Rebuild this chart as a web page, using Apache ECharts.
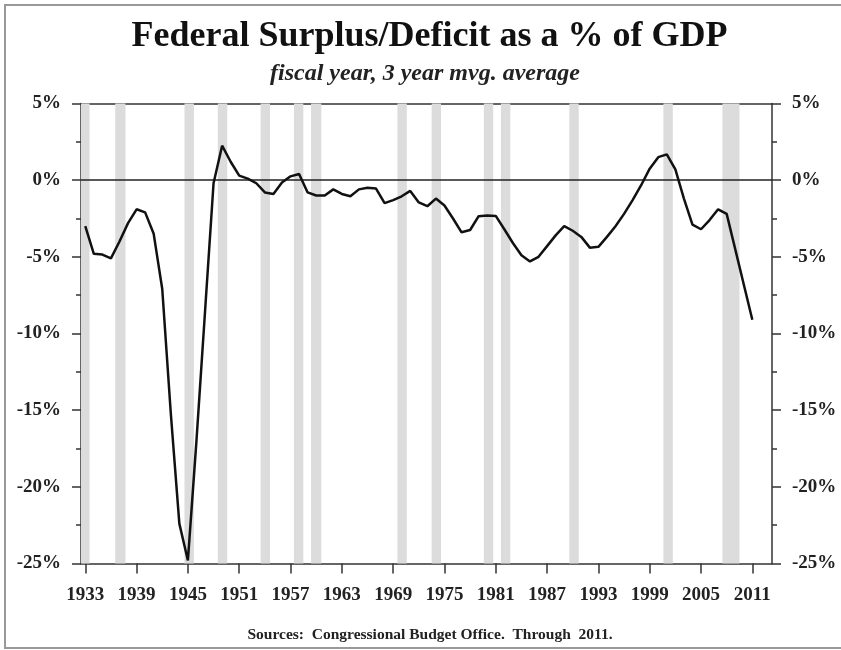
<!DOCTYPE html>
<html>
<head>
<meta charset="utf-8">
<script src="https://cdn.jsdelivr.net/npm/echarts@6/dist/echarts.min.js"></script>
<style>
html,body{margin:0;padding:0;background:#fff;}
#chart{width:841px;height:650px;}
</style>
</head>
<body>
<div id="chart"></div>
<script>
// ---- data ----
const years = [];
for (let y = 1933; y <= 2011; y++) years.push(y);
const deficitPct = [
  -3.0, -4.8, -4.85, -5.1, -4.0, -2.8, -1.9, -2.1, -3.5, -7.1,
  -15.2, -22.4, -24.8, -17.0, -8.6, -0.2, 2.25, 1.2, 0.3, 0.1,
  -0.2, -0.8, -0.9, -0.15, 0.25, 0.4, -0.8, -1.0, -1.0, -0.6,
  -0.9, -1.05, -0.6, -0.5, -0.55, -1.5, -1.3, -1.05, -0.7, -1.45,
  -1.7, -1.2, -1.65, -2.5, -3.4, -3.25, -2.35, -2.3, -2.33, -3.2,
  -4.1, -4.9, -5.3, -5.0, -4.3, -3.6, -3.0, -3.3, -3.7, -4.4,
  -4.35, -3.7, -3.0, -2.2, -1.3, -0.33, 0.75, 1.5, 1.68, 0.7,
  -1.2, -2.9, -3.2, -2.6, -1.9, -2.2, -4.5, -6.8, -9.1
];
const recessionStart = [1932.5, 1936.5, 1944.6, 1948.5, 1953.5, 1957.4, 1959.4, 1969.5, 1973.5, 1979.6, 1981.6, 1989.6, 2000.6, 2007.5];
const recessionEnd   = [1933.5, 1937.7, 1945.7, 1949.6, 1954.6, 1958.5, 1960.6, 1970.6, 1974.6, 1980.7, 1982.7, 1990.7, 2001.7, 2009.5];
const xTickYears = [1933, 1939, 1945, 1951, 1957, 1963, 1969, 1975, 1981, 1987, 1993, 1999, 2005, 2011];
const titleText = 'Federal Surplus/Deficit as a % of GDP';
const subtitleText = 'fiscal year, 3 year mvg. average';
const sourceText = 'Sources:  Congressional Budget Office.  Through  2011.';

// ---- chart ----
const serif = '"Liberation Serif", "Times New Roman", serif';
const chart = echarts.init(document.getElementById('chart'), null, {renderer: 'canvas'});
const lineData = years.map((y, i) => [y, deficitPct[i]]);
const bands = recessionStart.map((s, i) => [{xAxis: s}, {xAxis: recessionEnd[i]}]);

const yAxisCommon = {
  type: 'value', min: -25, max: 5, interval: 5,
  axisLine: {show: true, lineStyle: {color: '#333', width: 1.5}},
  axisTick: {show: true, inside: false, length: 9, lineStyle: {color: '#333', width: 1.5}},
  minorTick: {show: true, splitNumber: 2, length: 5, lineStyle: {color: '#333', width: 1.5}},
  splitLine: {show: false},
  axisLabel: {formatter: '{value}%', fontFamily: serif, fontWeight: 'bold', fontSize: 19, color: '#222', margin: 20}
};

chart.setOption({
  animation: false,
  backgroundColor: '#fff',
  title: [
    {text: titleText, left: 424.5, top: 14, textAlign: 'center',
     textStyle: {fontFamily: serif, fontWeight: 'bold', fontSize: 36, color: '#111'}},
    {text: subtitleText, left: 420, top: 57, textAlign: 'center',
     textStyle: {fontFamily: serif, fontWeight: 'bold', fontStyle: 'italic', fontSize: 24, color: '#222'}},
    {text: sourceText, left: 425, top: 622, textAlign: 'center',
     textStyle: {fontFamily: serif, fontWeight: 'bold', fontSize: 15.5, color: '#222'}}
  ],
  graphic: [{
    type: 'rect', silent: true, z: -1,
    shape: {x: 5, y: 5, width: 860, height: 643},
    style: {fill: null, stroke: '#999', lineWidth: 2}
  }],
  grid: {left: 81, right: 69, top: 103.5, bottom: 86.5},
  xAxis: [{
    type: 'value', min: 1932.5, max: 2013.3, position: 'bottom',
    axisLine: {show: true, onZero: false, lineStyle: {color: '#333', width: 1.5}},
    axisTick: {show: true, inside: false, length: 10, customValues: xTickYears, lineStyle: {color: '#333', width: 1.5}},
    axisLabel: {customValues: xTickYears, formatter: v => String(v), fontFamily: serif, fontWeight: 'bold', fontSize: 19, color: '#222', margin: 22},
    splitLine: {show: false}
  }, {
    type: 'value', min: 1932.5, max: 2013.3, position: 'top',
    axisLine: {show: true, onZero: false, lineStyle: {color: '#333', width: 1.5}},
    axisTick: {show: false}, axisLabel: {show: false}, splitLine: {show: false}
  }],
  yAxis: [
    Object.assign({position: 'left'}, yAxisCommon),
    Object.assign({position: 'right'}, yAxisCommon)
  ],
  series: [{
    type: 'line', xAxisIndex: 0, yAxisIndex: 0,
    data: lineData, showSymbol: false, symbol: 'none', smooth: false,
    lineStyle: {color: '#111', width: 2.5},
    z: 5,
    markArea: {
      silent: true,
      itemStyle: {color: '#dcdcdc'},
      data: bands
    },
    markLine: {
      silent: true, symbol: 'none', label: {show: false},
      lineStyle: {color: '#222', width: 1.5, type: 'solid'},
      data: [{yAxis: 0}]
    }
  }]
});
</script>
</body>
</html>
